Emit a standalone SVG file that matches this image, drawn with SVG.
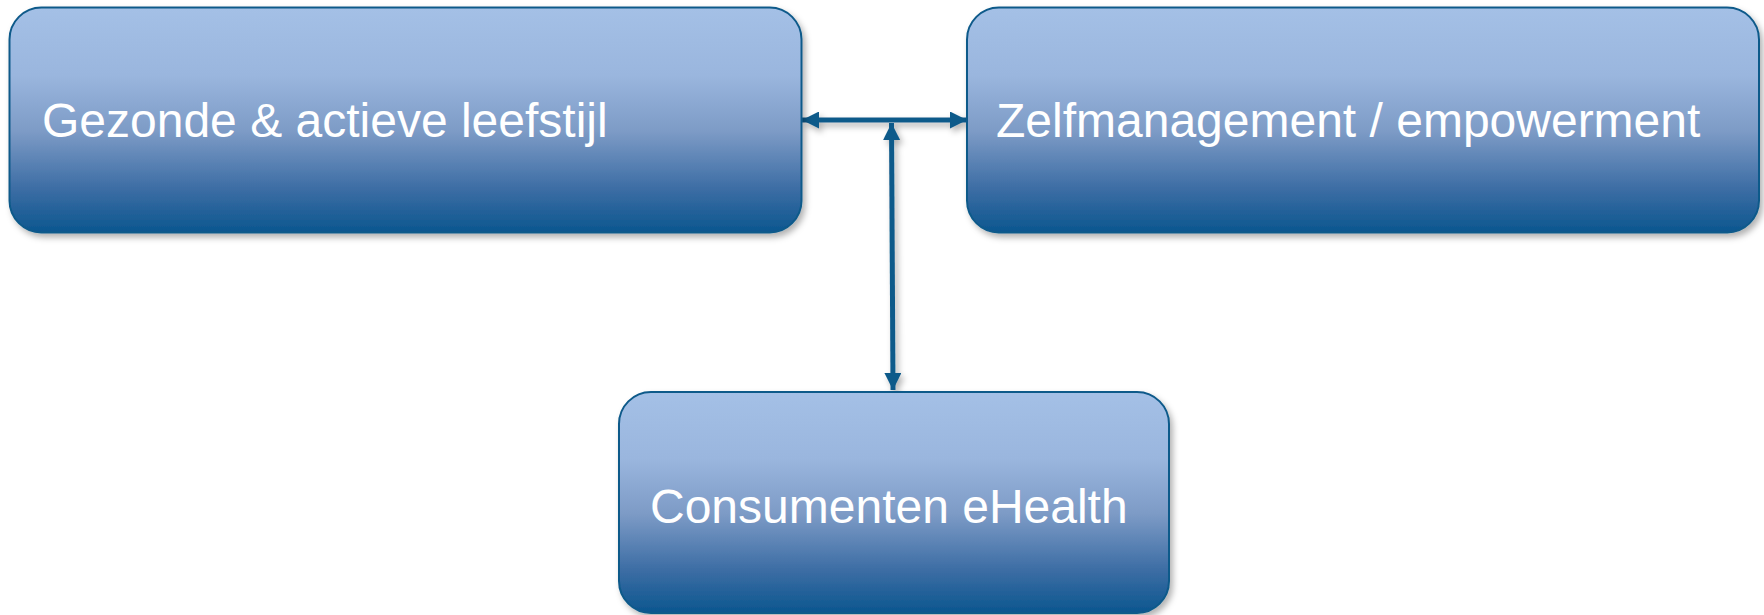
<svg xmlns="http://www.w3.org/2000/svg" width="1764" height="615" viewBox="0 0 1764 615">
<style>
.box{stroke:#0f5a8a;stroke-width:2;fill:url(#g)}
.lbl{font-family:"Liberation Sans",Arial,sans-serif;font-size:48px;fill:#ffffff}
.con{stroke:#0f5a8a;stroke-width:5;fill:none}
</style>
<defs>
<linearGradient id="g" x1="0" y1="0" x2="0" y2="1">
<stop offset="0" stop-color="#a4c0e6"/>
<stop offset="0.3" stop-color="#9ab6de"/>
<stop offset="0.55" stop-color="#7d9bc6"/>
<stop offset="0.8" stop-color="#3e6ea5"/>
<stop offset="1" stop-color="#0b568f"/>
</linearGradient>
<filter id="sh" x="-5%" y="-5%" width="110%" height="120%">
<feDropShadow dx="3" dy="4" stdDeviation="3" flood-color="#000" flood-opacity="0.3"/>
</filter>
<marker id="ah" viewBox="0 0 10 10" refX="10" refY="5" markerWidth="17" markerHeight="17" markerUnits="userSpaceOnUse" orient="auto-start-reverse">
<path d="M0,0 L10,5 L0,10 Z" fill="#0f5a8a"/>
</marker>
</defs>
<g id="connectors" filter="url(#sh)">
<line class="con" x1="802" y1="120" x2="967" y2="120" marker-start="url(#ah)" marker-end="url(#ah)"/>
<line class="con" x1="891.5" y1="123" x2="893" y2="390" marker-start="url(#ah)" marker-end="url(#ah)"/>
</g>
<g id="node-leefstijl">
<rect class="box" x="9.5" y="7.5" width="792" height="225" rx="32" ry="32" filter="url(#sh)"/>
<text class="lbl" x="42" y="137">Gezonde &amp; actieve leefstijl</text>
</g>
<g id="node-zelfmanagement">
<rect class="box" x="967" y="7.5" width="792" height="225" rx="32" ry="32" filter="url(#sh)"/>
<text class="lbl" x="996" y="137">Zelfmanagement / empowerment</text>
</g>
<g id="node-ehealth">
<rect class="box" x="619" y="392" width="550" height="221" rx="32" ry="32" filter="url(#sh)"/>
<text class="lbl" x="650" y="523">Consumenten eHealth</text>
</g>
</svg>
